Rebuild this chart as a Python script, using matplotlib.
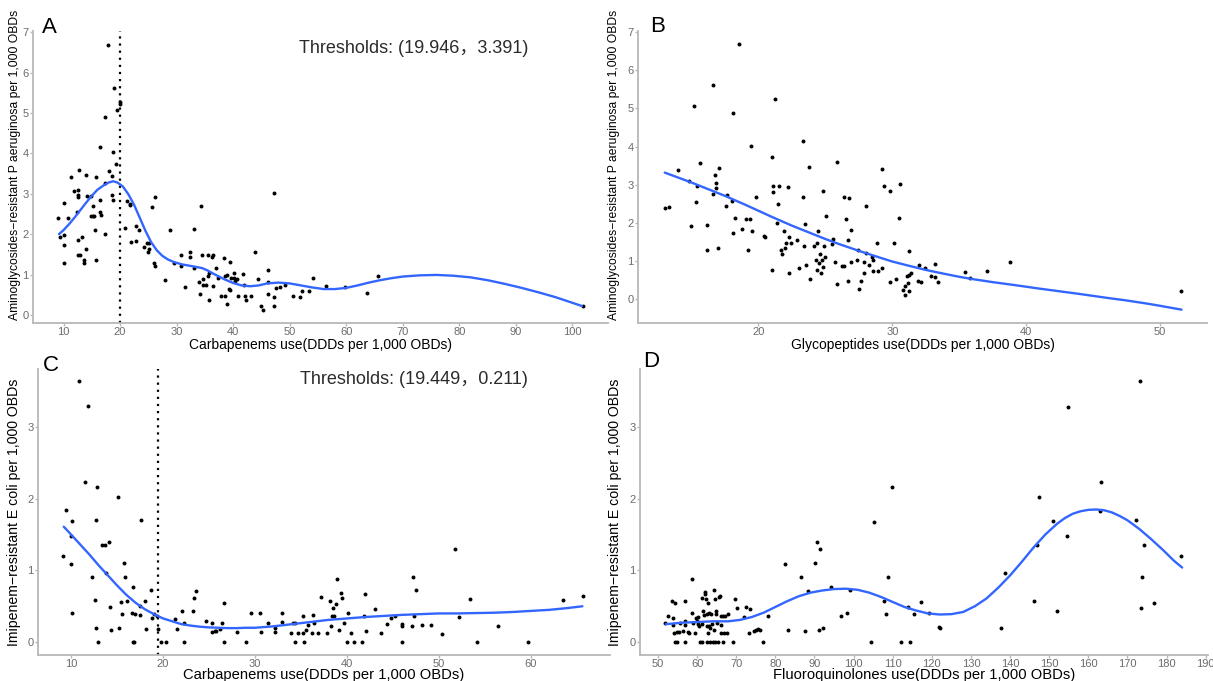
import numpy as np
import matplotlib
matplotlib.use('Agg')
from matplotlib import pyplot as plt

plt.rcParams['font.family'] = ['Liberation Sans', 'Noto Sans CJK SC', 'DejaVu Sans']

# ---- panel A: carbapenems vs aminoglycoside-resistant P aeruginosa
a_x = [9.1, 10.0, 10.8, 9.4, 10.0, 10.0, 10.0, 11.4, 11.8, 12.6, 12.6, 12.6, 12.3, 12.7, 12.6, 13.3,
       12.6, 12.9, 13.6, 13.7, 14.0, 14.0, 14.2, 14.9, 14.8, 15.2, 15.4, 15.2, 15.5, 15.7, 15.8, 16.4,
       16.5, 16.4, 16.6, 17.3, 17.3, 17.4, 17.8, 18.0, 18.6, 18.8, 18.5, 18.8, 19.0, 19.2, 19.5, 20.0,
       20.0, 21.3, 21.7, 21.8, 20.9, 21.9, 22.9, 22.9, 23.3, 24.3, 24.8, 25.0, 25.1, 25.2, 25.7, 26.1,
       26.0, 26.2, 28.0, 28.9, 29.5, 30.7, 30.7, 31.4, 32.3, 32.3, 33.0, 33.0, 34.4, 34.0, 34.5, 34.2,
       34.6, 34.6, 35.2, 35.5, 35.5, 35.8, 35.8, 36.3, 36.5, 36.5, 37.0, 37.3, 37.9, 38.3, 38.5, 38.5,
       39.0, 38.9, 39.2, 39.5, 39.5, 39.7, 40.2, 40.2, 40.4, 40.8, 40.6, 41.8, 42.0, 42.1, 42.3, 43.2,
       43.8, 44.4, 44.9, 45.3, 46.1, 46.1, 46.1, 47.2, 47.3, 47.3, 47.5, 48.3, 49.2, 50.5, 51.8, 52.2,
       53.4, 54.2, 56.5, 59.7, 63.6, 65.7, 101.8]
a_y = [2.40, 2.77, 2.41, 1.92, 1.98, 1.74, 1.29, 3.42, 3.06, 3.10, 2.98, 2.93, 2.55, 3.60, 1.85, 1.94,
       1.48, 1.48, 1.36, 1.29, 1.64, 3.47, 2.95, 2.95, 2.44, 2.44, 2.44, 2.69, 2.11, 3.42, 1.37, 4.16,
       2.84, 2.56, 2.48, 2.01, 4.90, 3.26, 6.69, 3.57, 3.44, 4.03, 2.98, 2.84, 5.61, 3.74, 5.07, 5.26,
       5.22, 2.83, 2.71, 2.75, 2.15, 1.81, 1.82, 2.20, 2.11, 1.67, 1.79, 1.57, 1.77, 1.64, 2.66, 2.93,
       1.28, 1.21, 0.86, 2.10, 1.28, 1.48, 1.21, 0.68, 1.56, 1.43, 2.13, 1.17, 2.70, 0.82, 1.48, 0.53,
       0.90, 0.75, 0.75, 1.48, 0.96, 1.03, 0.38, 1.43, 1.48, 0.71, 1.15, 0.92, 0.48, 1.41, 0.47, 0.96,
       0.99, 0.26, 0.63, 0.61, 1.30, 0.92, 0.92, 1.03, 0.85, 0.48, 0.90, 1.01, 0.74, 0.48, 0.36, 0.48,
       1.56, 0.88, 0.23, 0.12, 1.10, 0.81, 0.51, 0.22, 3.02, 0.45, 0.67, 0.68, 0.74, 0.46, 0.45, 0.58,
       0.60, 0.92, 0.72, 0.69, 0.55, 0.97, 0.22]
a_fit_x = [9.2, 10, 11, 12, 13, 14, 15, 16, 17, 18, 18.8, 19.5, 20.5, 21.5, 22.5, 23.5, 24.5, 25.5,
           26.5, 27.5, 28.5, 29.5, 31, 33, 34.5, 35.5, 36.5, 37.5, 38.5, 40, 41.5, 43, 44.5, 46, 48,
           50, 52, 54, 56, 58, 60, 62, 64, 66, 68, 70, 73, 76, 79, 82, 85, 88, 91, 94, 97, 100, 101.7]
a_fit_y = [2.0, 2.1, 2.25, 2.42, 2.6, 2.78, 2.95, 3.1, 3.2, 3.28, 3.31, 3.28, 3.18, 2.98, 2.72, 2.4,
           2.08, 1.8, 1.6, 1.46, 1.37, 1.31, 1.25, 1.2, 1.16, 1.1, 1.02, 0.95, 0.88, 0.79, 0.73, 0.71,
           0.73, 0.78, 0.8, 0.78, 0.73, 0.68, 0.64, 0.64, 0.67, 0.73, 0.8, 0.86, 0.91, 0.95, 0.98,
           0.99, 0.97, 0.93, 0.86, 0.77, 0.67, 0.56, 0.44, 0.3, 0.22]
a_threshold = (19.946, 3.391)

# ---- panel B: glycopeptides vs aminoglycoside-resistant P aeruginosa
b_x = [13.04, 13.31, 14.02, 14.80, 14.93, 15.20, 15.32, 15.37, 15.64, 16.18, 16.18, 16.59, 16.62, 16.72,
       16.81, 16.81, 16.99, 17.08, 17.57, 17.65, 18.04, 18.09, 18.06, 18.28, 18.55, 18.77, 19.09, 19.19,
       19.34, 19.41, 19.49, 19.83, 20.42, 20.47, 20.98, 21.00, 21.10, 21.10, 21.23, 21.40, 21.42, 21.50,
       21.69, 21.76, 21.89, 21.96, 22.08, 22.23, 22.28, 22.40, 22.30, 22.87, 22.99, 23.33, 23.36, 23.43,
       23.50, 23.58, 23.77, 23.85, 24.17, 24.34, 24.41, 24.26, 24.36, 24.49, 24.58, 24.66, 24.71, 24.80,
       24.85, 24.88, 25.00, 25.07, 25.51, 25.56, 25.71, 25.83, 25.88, 26.23, 26.37, 26.37, 26.54, 26.67,
       26.69, 26.76, 26.91, 26.91, 27.33, 27.45, 27.50, 27.65, 27.89, 27.89, 28.06, 28.06, 28.26, 28.50,
       28.53, 28.58, 28.87, 28.90, 29.26, 29.26, 29.39, 29.83, 29.80, 30.12, 30.29, 30.51, 30.56, 30.83,
       30.98, 30.93, 31.10, 31.18, 31.22, 31.22, 31.27, 31.37, 31.89, 32.01, 32.13, 32.44, 32.88, 33.20,
       33.20, 33.43, 35.43, 35.78, 37.08, 38.79, 51.59]
b_y = [2.40, 2.41, 3.40, 3.09, 1.91, 5.07, 2.55, 2.96, 3.56, 1.94, 1.29, 5.61, 2.76, 3.25,
       3.06, 2.92, 1.34, 3.43, 2.44, 2.74, 2.58, 4.89, 1.75, 2.14, 6.68, 1.83, 2.10, 1.30,
       2.11, 4.02, 1.80, 2.69, 1.67, 1.64, 3.74, 0.78, 2.96, 2.82, 5.25, 2.01, 2.49, 2.96,
       1.29, 1.18, 1.78, 1.35, 1.47, 2.93, 1.64, 1.47, 0.68, 1.56, 0.82, 4.15, 2.67, 1.40,
       1.98, 0.89, 3.46, 0.54, 1.40, 1.47, 1.80, 1.04, 0.77, 0.94, 1.19, 0.68, 1.04, 0.86,
       2.83, 1.40, 1.12, 2.18, 1.46, 1.57, 0.99, 3.60, 0.39, 0.87, 0.87, 2.69, 2.11, 1.55,
       0.48, 2.65, 1.82, 0.99, 1.04, 1.30, 0.26, 0.48, 0.99, 0.68, 2.45, 1.22, 0.91, 1.11,
       1.04, 0.75, 1.47, 0.75, 3.41, 0.82, 2.96, 2.84, 0.46, 1.47, 0.53, 2.13, 3.03, 0.24,
       0.12, 0.36, 0.61, 0.44, 0.21, 1.27, 0.63, 0.68, 0.48, 0.89, 0.46, 0.83, 0.61, 0.59,
       0.92, 0.46, 0.71, 0.56, 0.73, 0.97, 0.21]
b_fit_x = [13, 14, 15, 16, 17.5, 19, 20, 21, 22.5, 24, 25, 26, 27.5, 29, 30, 31, 32.5, 34, 35,
           36, 37.5, 39, 40, 41, 42.5, 44, 45, 46, 47.5, 49, 50, 51.6]
b_fit_y = [3.32, 3.19, 3.06, 2.92, 2.71, 2.48, 2.32, 2.16, 1.93, 1.72, 1.58, 1.45, 1.27, 1.10,
           0.99, 0.90, 0.77, 0.66, 0.59, 0.53, 0.45, 0.38, 0.33, 0.28, 0.21, 0.14, 0.09, 0.04,
           -0.03, -0.11, -0.17, -0.27]

# ---- panel C: carbapenems vs imipenem-resistant E coli
c_x = [10.90, 11.87, 11.53, 12.87, 9.48, 10.07, 10.04, 9.10, 10.0, 10.07, 12.72, 12.28, 12.65, 12.69,
       12.91, 13.36, 13.66, 14.07, 13.84, 14.18, 14.37, 15.07, 15.26, 15.41, 15.52, 15.71, 15.90, 16.04,
       16.57, 16.72, 16.75, 16.87, 16.98, 17.46, 17.50, 17.57, 18.06, 18.13, 18.69, 18.81, 19.03, 19.33,
       19.40, 19.74, 20.30, 21.31, 21.49, 22.09, 22.24, 22.31, 23.25, 23.32, 23.62, 24.70, 25.37, 25.30,
       25.60, 25.78, 26.23, 26.42, 26.60, 26.60, 28.0, 29.0, 29.6, 30.58, 30.65, 31.42, 32.14, 32.18,
       32.94, 32.90, 33.96, 34.10, 34.32, 34.39, 34.65, 35.19, 35.19, 35.34, 35.55, 35.77, 36.24, 36.35,
       36.42, 36.82, 37.15, 37.80, 38.17, 38.31, 38.46, 38.35, 38.60, 38.78, 38.86, 39.11, 39.40, 39.44,
       39.65, 40.05, 40.13, 40.42, 40.74, 41.65, 41.87, 41.91, 42.05, 43.00, 43.68, 44.37, 44.74, 45.25,
       46.01, 46.01, 46.01, 47.06, 47.21, 47.24, 47.50, 48.19, 49.13, 50.36, 51.71, 52.21, 53.38, 54.17,
       56.42, 59.73, 63.54, 65.61]
c_y = [3.64, 3.29, 2.24, 2.17, 1.84, 1.69, 1.48, 1.20, 1.09, 0.41, 1.71, 0.91, 0.59, 0.20,
       0.00, 1.36, 1.36, 1.40, 0.97, 0.49, 0.17, 2.03, 0.19, 0.56, 0.39, 1.11, 0.91, 0.57,
       0.40, 0.77, 0.00, 0.00, 0.39, 0.50, 0.38, 1.70, 0.58, 0.18, 0.73, 0.34, 0.39, 0.37,
       0.18, 0.00, 0.00, 0.32, 0.18, 0.44, 0.00, 0.27, 0.44, 0.61, 0.71, 0.30, 0.27, 0.14,
       0.15, 0.15, 0.18, 0.26, 0.55, 0.00, 0.14, 0.00, 0.41, 0.41, 0.14, 0.27, 0.14, 0.19,
       0.40, 0.28, 0.13, 0.26, 0.26, 0.00, 0.13, 0.37, 0.13, 0.00, 0.17, 0.24, 0.13, 0.38,
       0.27, 0.13, 0.63, 0.13, 0.58, 0.22, 0.47, 0.36, 0.37, 0.53, 0.88, 0.17, 0.69, 0.61,
       0.26, 0.00, 0.40, 0.12, 0.00, 0.00, 0.36, 0.67, 0.16, 0.46, 0.12, 0.25, 0.34, 0.37,
       0.25, 0.23, 0.00, 0.23, 0.91, 0.37, 0.73, 0.24, 0.24, 0.11, 1.30, 0.35, 0.60, 0.00,
       0.23, 0.00, 0.59, 0.65]
c_fit_x = [9.2, 10, 11, 12, 13, 14, 15, 16, 17, 18, 19, 20, 21, 22, 23, 24, 25, 26, 27, 28, 29, 30,
           32, 34, 36, 38, 40, 42, 44, 46, 48, 50, 52, 54, 56, 58, 60, 62, 64, 65.6]
c_fit_y = [1.61, 1.50, 1.36, 1.22, 1.07, 0.93, 0.79, 0.66, 0.55, 0.46, 0.39, 0.33, 0.29, 0.25, 0.23,
           0.215, 0.205, 0.20, 0.195, 0.195, 0.20, 0.20, 0.22, 0.25, 0.28, 0.31, 0.33, 0.35, 0.365,
           0.38, 0.39, 0.40, 0.40, 0.405, 0.41, 0.42, 0.435, 0.45, 0.475, 0.50]
c_threshold = (19.449, 0.211)

# ---- panel D: fluoroquinolones vs imipenem-resistant E coli
d_x = [51.86, 52.46, 53.64, 53.81, 53.73, 54.07, 54.41, 54.41, 54.92, 55.34, 54.92, 55.59, 56.36, 56.86,
       56.78, 56.78, 56.78, 57.71, 57.88, 58.73, 58.81, 58.98, 59.58, 59.75, 60.0, 60.25, 60.25, 60.59,
       60.85, 61.19, 61.27, 61.36, 61.61, 61.78, 61.95, 62.12, 62.29, 62.46, 62.54, 62.63, 62.71, 62.88,
       63.05, 63.14, 63.39, 63.39, 63.64, 63.81, 63.98, 64.24, 64.41, 64.49, 64.66, 64.83, 64.92, 65.08,
       65.25, 65.68, 65.85, 66.02, 66.02, 66.10, 66.61, 66.69, 66.86, 67.20, 67.63, 67.80, 69.07, 69.58,
       70.25, 71.86, 72.46, 73.31, 73.64, 74.49, 75.08, 75.51, 76.02, 76.78, 78.14, 82.46, 83.31, 86.53,
       87.54, 88.22, 90.17, 90.68, 91.10, 91.53, 92.12, 94.32, 96.69, 98.39, 99.07, 104.49, 105.17,
       107.8, 108.2, 108.8, 109.8, 112.0, 114.0, 114.4, 115.4, 117.3, 119.2, 121.8, 122.1, 137.6,
       138.7, 146.2, 146.9, 147.4, 151.0, 151.9, 154.5, 154.7, 163.1, 163.3, 172.2, 173.1, 173.5,
       173.8, 174.3, 176.7, 183.6]
d_y = [0.26, 0.36, 0.57, 0.33, 0.24, 0.12, 0.54, 0.00, 0.14, 0.14, 0.00, 0.26, 0.15, 0.57,
       0.00, 0.30, 0.24, 0.14, 0.13, 0.40, 0.88, 0.27, 0.12, 0.33, 0.29, 0.25, 0.35, 0.22,
       0.00, 0.62, 0.25, 0.00, 0.43, 0.38, 0.67, 0.70, 0.60, 0.39, 0.23, 0.00, 0.54, 0.13,
       0.40, 0.22, 0.19, 0.00, 0.39, 0.25, 0.00, 0.17, 0.73, 0.60, 0.00, 0.44, 0.39, 0.26,
       0.00, 0.63, 0.65, 0.24, 0.37, 0.12, 0.36, 0.00, 0.12, 0.37, 0.12, 0.39, 0.00, 0.60,
       0.47, 0.35, 0.49, 0.12, 0.46, 0.15, 0.17, 0.18, 0.17, 0.00, 0.36, 1.09, 0.17, 0.91,
       0.16, 0.71, 1.11, 1.40, 0.17, 1.30, 0.19, 0.77, 0.36, 0.41, 0.73, 0.00, 1.68,
       0.58, 0.39, 0.91, 2.17, 0.00, 0.49, 0.00, 0.39, 0.56, 0.40, 0.21, 0.19, 0.20,
       0.97, 0.58, 1.35, 2.02, 1.69, 0.43, 1.48, 3.28, 1.83, 2.24, 1.70, 3.64, 0.47,
       0.91, 1.35, 0.55, 1.20]
d_fit_x = [52, 56, 60, 64, 68, 71, 74, 77, 80, 83, 86, 89, 92, 95, 98, 101, 104, 107, 110, 113, 116,
           119, 122, 125, 128, 131, 134, 137, 140, 143, 146, 149, 152, 154, 156, 158, 160, 162, 164,
           166, 168, 170, 173, 176, 179, 182, 184]
d_fit_y = [0.25, 0.27, 0.28, 0.29, 0.29, 0.31, 0.35, 0.41, 0.49, 0.57, 0.64, 0.69, 0.72, 0.74, 0.745,
           0.73, 0.69, 0.63, 0.56, 0.49, 0.44, 0.40, 0.385, 0.39, 0.42, 0.50, 0.61, 0.76, 0.93, 1.12,
           1.32, 1.50, 1.65, 1.73, 1.79, 1.825, 1.845, 1.85, 1.84, 1.81, 1.76, 1.70, 1.58, 1.44, 1.29,
           1.13, 1.04]

label_pa = 'Aminoglycosides\u2212resistant P aeruginosa per 1,000 OBDs'
label_ec = 'Imipenem\u2212resistant E coli per 1,000 OBDs'

SPINE = '#b8b8b8'
TICKTXT = '#6b6b6b'
BLUE = '#3366FF'


def style_axis(ax, xlim, ylim, xticks, yticks, tick_fs, tick_len=2, tick_pad=1):
    ax.set_xlim(*xlim)
    ax.set_ylim(*ylim)
    ax.set_xticks(xticks)
    ax.set_yticks(yticks)
    for side in ['top', 'right']:
        ax.spines[side].set_visible(False)
    for side in ['left', 'bottom']:
        ax.spines[side].set_color(SPINE)
        ax.spines[side].set_linewidth(1.3)
    ax.tick_params(colors=SPINE, labelcolor=TICKTXT, labelsize=tick_fs, length=tick_len,
                   width=1, pad=tick_pad)


def draw_panel(ax, xs, ys, fit_x, fit_y):
    ax.scatter(xs, ys, s=8, color='black', zorder=3, linewidths=0)
    ax.plot(fit_x, fit_y, color=BLUE, lw=1.7, zorder=4, solid_capstyle='round',
            solid_joinstyle='round')


fig = plt.figure(figsize=(12.13, 6.81), dpi=100)
W, H = 1213, 681


def add_axes_px(x0, x1, y0, y1):
    # pixel box (y measured from the top of the figure)
    return fig.add_axes([x0 / W, 1 - y1 / H, (x1 - x0) / W, (y1 - y0) / H])


ax_a = add_axes_px(33, 608, 31, 323)
ax_b = add_axes_px(638, 1207, 31, 323)
ax_c = add_axes_px(38, 610, 369, 655)
ax_d = add_axes_px(640, 1208, 369, 655)

# A
draw_panel(ax_a, a_x, a_y, a_fit_x, a_fit_y)
ax_a.axvline(a_threshold[0], color='black', lw=1.6, ls=(0, (1, 2.2)), zorder=2)
style_axis(ax_a, (4.6, 106.3), (-0.2, 7.03), range(10, 101, 10), range(0, 8), 8)
ax_a.text(72.0, 6.6, 'Thresholds: (%.3f\uff0c%.3f)' % a_threshold, ha='center', va='center',
          fontsize=13, color='#2b2b2b')
ax_a.set_xlabel('Carbapenems use(DDDs per 1,000 OBDs)', fontsize=10)
ax_a.set_ylabel(label_pa, fontsize=8.7)
ax_a.xaxis.set_label_coords(0.5, -0.050)
ax_a.yaxis.set_label_coords(-0.020, 0.54)

# B
draw_panel(ax_b, b_x, b_y, b_fit_x, b_fit_y)
style_axis(ax_b, (11.0, 53.5), (-0.62, 7.03), [20, 30, 40, 50], range(0, 8), 8)
ax_b.set_xlabel('Glycopeptides use(DDDs per 1,000 OBDs)', fontsize=10)
ax_b.set_ylabel(label_pa, fontsize=8.7)
ax_b.xaxis.set_label_coords(0.5, -0.050)
ax_b.yaxis.set_label_coords(-0.031, 0.54)

# C
draw_panel(ax_c, c_x, c_y, c_fit_x, c_fit_y)
ax_c.axvline(c_threshold[0], color='black', lw=1.6, ls=(0, (1, 2.2)), zorder=2)
style_axis(ax_c, (6.4, 68.6), (-0.18, 3.81), range(10, 61, 10), range(0, 4), 8)
ax_c.text(47.3, 3.66, 'Thresholds: (%.3f\uff0c%.3f)' % c_threshold, ha='center', va='center',
          fontsize=13, color='#2b2b2b')
ax_c.set_xlabel('Carbapenems use(DDDs per 1,000 OBDs)', fontsize=10.6)
ax_c.set_ylabel(label_ec, fontsize=10.2)
ax_c.xaxis.set_label_coords(0.5, -0.046)
ax_c.yaxis.set_label_coords(-0.029, 0.50)

# D
draw_panel(ax_d, d_x, d_y, d_fit_x, d_fit_y)
style_axis(ax_d, (45.4, 190.6), (-0.18, 3.81), range(50, 191, 10), range(0, 4), 8)
ax_d.set_xlabel('Fluoroquinolones use(DDDs per 1,000 OBDs)', fontsize=10.6)
ax_d.set_ylabel(label_ec, fontsize=10.2)
ax_d.xaxis.set_label_coords(0.5, -0.046)
ax_d.yaxis.set_label_coords(-0.032, 0.50)

# panel letters
for letter, (px, py) in zip('ABCD', [(42, 33), (650, 32), (43, 371), (643, 367)]):
    fig.text(px / W, 1 - py / H, letter, fontsize=16, ha='left', va='baseline')

fig.savefig('out.png', dpi=100)
